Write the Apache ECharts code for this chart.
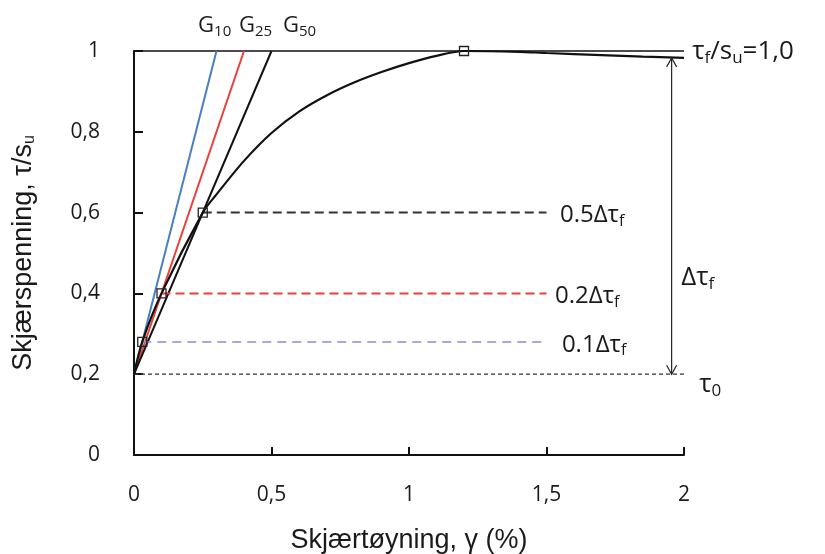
<!DOCTYPE html>
<html><head><meta charset="utf-8">
<script src="https://cdn.jsdelivr.net/npm/echarts@6/dist/echarts.min.js"></script>
<style>html,body{margin:0;padding:0;background:#fff}#c{width:825px;height:554px}</style>
</head><body><div id="c"></div>
<script>
// ---- data ----
const xTickLabels = ['0', '0,5', '1', '1,5', '2'];
const yTickLabels = ['0', '0,2', '0,4', '0,6', '0,8', '1'];
const curveX = [0, 0.03, 0.1, 0.25, 0.3, 0.4, 0.5, 0.6, 0.7, 0.8, 0.9, 1.0, 1.1, 1.2, 1.4, 1.5, 1.7, 1.85, 2.0];
const curveY = [0.2, 0.28, 0.4, 0.6, 0.645, 0.728, 0.797, 0.85, 0.89, 0.922, 0.948, 0.970, 0.988, 1.0, 0.998, 0.995, 0.99, 0.986, 0.983];
const markX = [0.03, 0.1, 0.25, 1.2];
const markY = [0.28, 0.4, 0.6, 1.0];
const gX = [0.3, 0.4, 0.5];          // strain where G10, G25, G50 reach 1
const gStart = [0, 0.2];
const refLevels = [0.6, 0.4, 0.28, 0.2];       // 0.5Δτf, 0.2Δτf, 0.1Δτf, τ0
const refStartX = [0.25, 0.1, 0.03, 0];
const refEndX = [1.5, 1.5, 1.49, 2.0];
const topLine = [[0, 1], [2.0, 1]];
const arrowX = 1.955, arrowY0 = 0.2, arrowY1 = 0.983;

const chart = echarts.init(document.getElementById('c'), null, {renderer: 'canvas'});
const txt = '#1a1a1a';
const sansT = '"Open Sans", Lato, sans-serif';
const subRich = (fs) => ({
  a: {fontSize: fs, color: txt, fontFamily: sansT},
  s: {fontSize: Math.round(fs * 0.66), color: txt, fontFamily: sansT, padding: [Math.round(fs*0.5), 0, 0, 0]}
});
function lbl(x, y, text, fs) {
  return {
    type: 'scatter', clip: false, silent: true, symbolSize: 0,
    itemStyle: {opacity: 1},
    data: [[x, y]],
    label: {show: true, position: 'right', distance: 0, color: txt, formatter: text, rich: subRich(fs)}
  };
}
const lineStyleBase = {type: 'line', showSymbol: false, clip: false, silent: true, animation: false};
const gColors = ['#4a7fc1', '#e8413b', '#111'];
const refColors = ['#333', '#e8413b', '#8c8ad6', '#333'];
const refWidths = [2, 2, 1.5, 1.2];
const refDash = [[9, 5], [9, 5], [9, 6], [4, 3]];

const series = [];
series.push(Object.assign({}, lineStyleBase, {data: topLine, lineStyle: {color: '#111', width: 1.6}}));
gX.forEach((gx, i) => series.push(Object.assign({}, lineStyleBase, {
  data: [gStart, [gx, 1]], lineStyle: {color: gColors[i], width: 2}, z: 3
})));
refLevels.forEach((lv, i) => series.push(Object.assign({}, lineStyleBase, {
  data: [[refStartX[i], lv], [refEndX[i], lv]],
  lineStyle: {color: refColors[i], width: refWidths[i], type: refDash[i]}
})));
series.push(Object.assign({}, lineStyleBase, {
  data: curveX.map((x, i) => [x, curveY[i]]), smooth: 0.3,
  lineStyle: {color: '#111', width: 2.2}, z: 4
}));
series.push({type: 'scatter', symbol: 'rect', symbolSize: 9, silent: true, z: 5,
  data: markX.map((x, i) => [x, markY[i]]),
  itemStyle: {color: 'rgba(255,255,255,0)', borderColor: '#222', borderWidth: 1.3, opacity: 1}});
series.push({type: 'custom', silent: true, clip: false, z: 6,
  data: [[arrowX, arrowY0, arrowY1]],
  renderItem: function (params, api) {
    const p0 = api.coord([api.value(0), api.value(1)]);
    const p1 = api.coord([api.value(0), api.value(2)]);
    const st = {stroke: '#222', lineWidth: 1.2, fill: null};
    const h = 9, w = 5;
    return {type: 'group', children: [
      {type: 'line', shape: {x1: p0[0], y1: p0[1], x2: p1[0], y2: p1[1]}, style: st},
      {type: 'polyline', shape: {points: [[p1[0]-w, p1[1]+h], [p1[0], p1[1]], [p1[0]+w, p1[1]+h]]}, style: st},
      {type: 'polyline', shape: {points: [[p0[0]-w, p0[1]-h], [p0[0], p0[1]], [p0[0]+w, p0[1]-h]]}, style: st}
    ]};
  }});
series.push(lbl(1.549, 0.593, '{a|0.5Δτ}{s|f}', 24));
series.push(lbl(1.531, 0.393, '{a|0.2Δτ}{s|f}', 24));
series.push(lbl(1.556, 0.273, '{a|0.1Δτ}{s|f}', 24));
series.push(lbl(2.055, 0.175, '{a|τ}{s|0}', 26));
series.push(lbl(1.99, 0.44, '{a|Δτ}{s|f}', 26));
series.push(lbl(2.03, 0.998, '{a|τ}{s|f}{a|/s}{s|u}{a|=1,0}', 26));
series.push(lbl(0.233, 1.062, '{a|G}{s|10}', 22));
series.push(lbl(0.382, 1.062, '{a|G}{s|25}', 22));
series.push(lbl(0.542, 1.062, '{a|G}{s|50}', 22));

chart.setOption({
  animation: false,
  backgroundColor: '#fff',
  grid: {left: 134, right: 141, top: 51, bottom: 99, containLabel: false, outerBoundsMode: 'none'},
  xAxis: {
    type: 'value', min: 0, max: 2, interval: 0.5,
    name: 'Skjærtøyning, γ (%)', nameLocation: 'middle', nameGap: 72,
    nameTextStyle: {fontSize: 27, color: txt, fontFamily: '"Liberation Sans", Arial, sans-serif'},
    axisLine: {show: true, lineStyle: {color: '#111', width: 2}},
    axisTick: {show: true, inside: true, length: 8, lineStyle: {color: '#111', width: 2}},
    splitLine: {show: false},
    axisLabel: {margin: 30, fontSize: 21, color: txt, fontFamily: sansT,
      formatter: (v) => xTickLabels[Math.round(v / 0.5)]}
  },
  yAxis: {
    type: 'value', min: 0, max: 1, interval: 0.2,
    name: '{n|Skjærspenning, τ/s}{u|u}', nameLocation: 'middle', nameGap: 96, nameRotate: 90,
    nameTextStyle: {rich: {
      n: {fontSize: 27, color: txt, fontFamily: '"Liberation Sans", Arial, sans-serif'},
      u: {fontSize: 16, color: txt, fontFamily: '"Liberation Sans", Arial, sans-serif', padding: [13, 0, 0, 0]}
    }},
    axisLine: {show: true, lineStyle: {color: '#111', width: 2}},
    axisTick: {show: true, inside: true, length: 9, lineStyle: {color: '#111', width: 2}},
    splitLine: {show: false},
    axisLabel: {margin: 34, fontSize: 21, color: txt, fontFamily: sansT,
      formatter: (v) => yTickLabels[Math.round(v / 0.2)]}
  },
  series: series
});
</script></body></html>
